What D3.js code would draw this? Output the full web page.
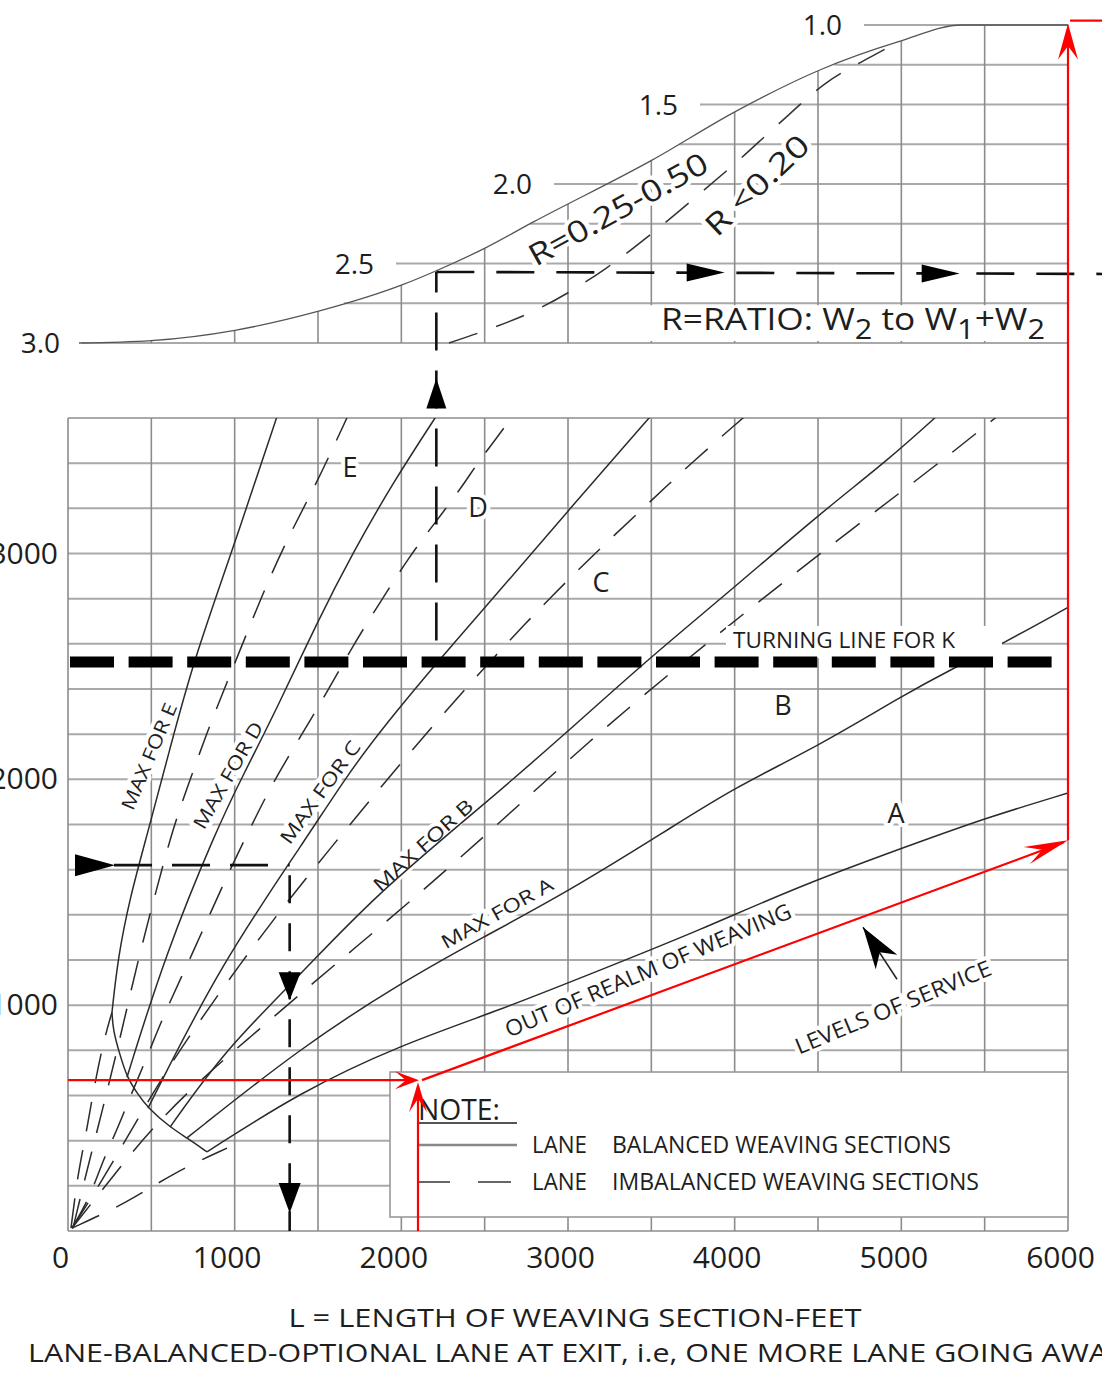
<!DOCTYPE html>
<html>
<head>
<meta charset="utf-8">
<title>Weaving section nomograph</title>
<script src="https://cdn.jsdelivr.net/npm/d3@7/dist/d3.min.js"></script>
<style>
  body { margin: 0; background: #fff; }
  svg { display: block; }
  text { font-family: "Open Sans", "DejaVu Sans", sans-serif; fill: #1e1e1e; }
</style>
</head>
<body>
<svg width="1102" height="1373"></svg>
<script>
// ticks
const xTicks = [0, 1000, 2000, 3000, 4000, 5000, 6000]
const yTicks = [1000, 2000, 3000]
const kTicks = [1.0, 1.5, 2.0, 2.5, 3.0]
const kGrid = [1.0, 1.25, 1.5, 1.75, 2.0, 2.25, 2.5, 2.75, 3.0]

// K curves on top, [L, K]
const kCurveWide = [[66, 3.0], [498, 2.985], [1002, 2.92], [1504, 2.80], [2004, 2.635], [2244, 2.53], [2508, 2.40], [2790, 2.24], [3504, 1.85], [4012, 1.54], [4518, 1.28], [4984, 1.105], [5364, 1.0], [6000, 1.0]]
const kCurveLow = [[2286, 3.0], [2508, 2.92], [2832, 2.78], [3228, 2.53], [3528, 2.29], [3780, 2.07], [4014, 1.86], [4266, 1.62], [4542, 1.37], [4836, 1.19], [4986, 1.105]]

// balanced sections (solid), [L, V]
const maxE = [[264, 969], [300, 1212], [372, 1478], [474, 1752], [612, 2137], [750, 2518], [990, 3022], [1260, 3620]]
const maxD = [[354, 681], [582, 1221], [894, 1783], [1050, 2018], [1254, 2314], [1494, 2695], [1710, 3005], [1950, 3314], [2220, 3620]]
const maxC = [[480, 544], [912, 1177], [1434, 1743], [1674, 2018], [1914, 2252], [2250, 2549], [2514, 2770], [3012, 3199], [3510, 3620]]
const maxB = [[612, 460], [942, 801], [1380, 1124], [1842, 1487], [2490, 1885], [2994, 2208], [3450, 2513], [3990, 2845], [4512, 3177], [4932, 3421], [5230, 3620]]
const maxA = [[714, 412], [1392, 810], [1992, 1097], [2490, 1301], [2994, 1500], [3594, 1774], [3990, 1960], [4512, 2151], [5010, 2372], [5310, 2491], [5610, 2602], [6000, 2761]]
const outLine = [[834, 350], [1392, 615], [1992, 823], [2592, 978], [3192, 1155], [3792, 1332], [4392, 1530], [5172, 1740], [5514, 1830], [5994, 1938]]
const hookLine = [[264, 969], [270, 889], [312, 779], [354, 681], [414, 611], [480, 544], [612, 460], [714, 412], [834, 350]]

// imbalanced sections (dashed), [L, V]
const dashLeft = [[18, 13], [60, 257], [102, 403], [150, 611], [210, 832], [264, 969]]
const dashE = [[30, 13], [114, 270], [222, 580], [324, 890], [420, 1199], [534, 1522], [630, 1783], [720, 1973], [834, 2208], [954, 2430], [1080, 2659], [1194, 2867], [1332, 3089], [1494, 3314], [1680, 3611]]
const dashD = [[24, 13], [132, 150], [210, 314], [294, 447], [372, 593], [474, 770], [570, 947], [672, 1111], [774, 1274], [870, 1434], [990, 1628], [1110, 1809], [1230, 1986], [1374, 2164], [1554, 2385], [1710, 2593], [1872, 2783], [2052, 2991], [2190, 3124], [2370, 3301], [2454, 3398], [2574, 3513], [2670, 3611]]
const dashC = [[24, 13], [132, 137], [312, 358], [552, 668], [792, 934], [1092, 1243], [1392, 1531], [1752, 1854], [2052, 2120], [2412, 2425], [2730, 2681], [3114, 2969], [3450, 3199], [3702, 3376], [4032, 3589], [4074, 3615]]
const dashB = [[24, 13], [252, 226], [492, 447], [792, 668], [1092, 858], [1392, 1049], [1692, 1235], [2112, 1496], [2592, 1809], [3132, 2173], [3654, 2496], [4152, 2792], [4692, 3102], [5232, 3403], [5580, 3610]]
const dashOut = [[24, 13], [354, 124], [630, 257], [954, 367]]

const turningV = 2520

// worked example (black dashed)
const exL = 1330, exV = 1620
const exTopL = 2210, exTopV = 2615, exTopK = 2.553

// red reading
const redL = 2100, redV = 668, redEndV = 1730, redTopK = 0.985

const svg = d3.select('svg')
const W = +svg.attr('width')

const x = d3.scaleLinear().domain([0, 6000]).range([68, 1068])
const y = d3.scaleLinear().domain([0, 3600]).range([1231, 418])
const k = d3.scaleLinear().domain([1, 3]).range([25, 343])

svg.append('defs').append('clipPath').attr('id', 'plot')
    .append('rect')
    .attr('x', x(0)).attr('y', y(3600))
    .attr('width', x(6000) - x(0)).attr('height', y(0) - y(3600))

// layers, bottom to top
const gridG = svg.append('g')
const bgLayer = svg.append('g')
const curveG = svg.append('g').attr('clip-path', 'url(#plot)')
const maskG = svg.append('g')
const heavyG = svg.append('g')
const topG = svg.append('g')
const guideG = svg.append('g')
const noteG = svg.append('g')
const textLayer = svg.append('g')
const redG = svg.append('g')
const axisG = svg.append('g')

function kAt(L) {
    const i = d3.bisector(d => d[0]).left(kCurveWide, L)
    if (i <= 0) return kCurveWide[0][1]
    if (i >= kCurveWide.length) return kCurveWide[kCurveWide.length - 1][1]
    const a = kCurveWide[i - 1], b = kCurveWide[i]
    return a[1] + (b[1] - a[1]) * (L - a[0]) / (b[0] - a[0])
}
function lAt(K) {
    for (let i = 1; i < kCurveWide.length; i++) {
        const a = kCurveWide[i - 1], b = kCurveWide[i]
        if ((a[1] - K) * (b[1] - K) <= 0 && a[1] !== b[1])
            return a[0] + (b[0] - a[0]) * (K - a[1]) / (b[1] - a[1])
    }
    return kCurveWide[0][0]
}

// main grid
gridG.selectAll('.hg').data(d3.range(0, 3601, 200)).join('line')
    .attr('x1', x(0)).attr('x2', x(6000))
    .attr('y1', d => y(d)).attr('y2', d => y(d))
    .attr('stroke', '#a9a9a9').attr('stroke-width', 2)
gridG.selectAll('.vg').data(d3.range(0, 6001, 500)).join('line')
    .attr('x1', d => x(d)).attr('x2', d => x(d))
    .attr('y1', y(0)).attr('y2', y(3600))
    .attr('stroke', '#8c8c8c').attr('stroke-width', 1.6)

// top grid
const kLabelRight = new Map([[1, 842], [1.5, 678], [2, 532], [2.5, 374], [3, 60]])
gridG.selectAll('.kh').data(kGrid).join('line')
    .attr('x1', d => kLabelRight.has(d) ? kLabelRight.get(d) + 22 : x(lAt(d)))
    .attr('x2', x(6000))
    .attr('y1', d => k(d)).attr('y2', d => k(d))
    .attr('stroke', '#a9a9a9').attr('stroke-width', 2)
gridG.selectAll('.kv').data(d3.range(500, 6001, 500)).join('line')
    .attr('x1', d => x(d)).attr('x2', d => x(d))
    .attr('y1', k(3)).attr('y2', d => k(kAt(d)))
    .attr('stroke', '#8c8c8c').attr('stroke-width', 1.6)
// blank band behind the ratio note
bgLayer.append('rect')
    .attr('x', 600).attr('y', k(2.75) + 2)
    .attr('width', x(6000) - 601).attr('height', k(3) - k(2.75) - 4)
    .attr('fill', '#fff')

function label(t, px, py, ang, size, len) {
    [bgLayer, textLayer].forEach((layer, i) => {
        const el = layer.append('text')
            .attr('transform', `translate(${px},${py}) rotate(${ang})`)
            .attr('text-anchor', 'middle').attr('dy', '0.36em')
            .attr('font-size', size).text(t)
        if (len) el.attr('textLength', len).attr('lengthAdjust', 'spacingAndGlyphs')
        if (i === 0) el.attr('fill', '#fff').attr('stroke', '#fff')
            .attr('stroke-width', 8).attr('stroke-linejoin', 'round')
    })
}

// main curves
const line = d3.line().x(d => x(d[0])).y(d => y(d[1])).curve(d3.curveBasis)
curveG.selectAll('.solid').data([maxE, maxD, maxC, maxB, maxA, outLine, hookLine]).join('path')
    .attr('d', line).attr('fill', 'none')
    .attr('stroke', '#2b2b2b').attr('stroke-width', 1.5)
curveG.selectAll('.dash').data([dashLeft, dashE, dashD, dashC, dashB, dashOut]).join('path')
    .attr('d', line).attr('fill', 'none')
    .attr('stroke', '#2b2b2b').attr('stroke-width', 1.5)
    .attr('stroke-dasharray', '30,19')

// turning line label mask + heavy dashed line
maskG.append('rect')
    .attr('x', 726).attr('y', y(turningV) - 36)
    .attr('width', 276).attr('height', 32).attr('fill', '#fff')
heavyG.append('line')
    .attr('x1', x(0) + 2).attr('x2', 1053)
    .attr('y1', y(turningV)).attr('y2', y(turningV))
    .attr('stroke', '#000').attr('stroke-width', 11)
    .attr('stroke-dasharray', '44,14.6')

// top curves
const kLine = d3.line().x(d => x(d[0])).y(d => k(d[1])).curve(d3.curveMonotoneX)
topG.append('path').datum(kCurveWide).attr('d', kLine)
    .attr('fill', 'none').attr('stroke', '#555').attr('stroke-width', 1.3)
topG.append('path').datum(kCurveLow).attr('d', kLine)
    .attr('fill', 'none').attr('stroke', '#333').attr('stroke-width', 1.5)
    .attr('stroke-dasharray', '30,20')

function arrowHead(g, tx, ty, ang, len, half, fill, notch) {
    const a = ang * Math.PI / 180
    const c = Math.cos(a), s = Math.sin(a)
    const pt = (u, v) => [tx + u * c - v * s, ty + u * s + v * c]
    const pts = notch
        ? [pt(0, 0), pt(-len, -half), pt(-len * notch, 0), pt(-len, half)]
        : [pt(0, 0), pt(-len, -half), pt(-len, half)]
    g.append('path').attr('d', 'M' + pts.map(p => p.join(',')).join('L') + 'Z').attr('fill', fill)
}

// worked example guides
const guide = (x1, y1, x2, y2, dash) => guideG.append('line')
    .attr('x1', x1).attr('y1', y1).attr('x2', x2).attr('y2', y2)
    .attr('stroke', '#111').attr('stroke-width', 2.6).attr('stroke-dasharray', dash)
guide(x(0) + 46, y(exV), x(exL), y(exV), '38,20')
guide(x(exL), y(exV) + 10, x(exL), y(0), '28,20')
guide(x(exTopL), y(exTopV), x(exTopL), k(exTopK), '38,20')
guide(x(exTopL), k(exTopK), W, k(exTopK) + 2, '38,22')
arrowHead(guideG, x(0) + 47, y(exV), 0, 40, 11, '#000')
arrowHead(guideG, x(exL), y(1022), 90, 28, 11, '#000')
arrowHead(guideG, x(exL), y(80), 90, 30, 11, '#000')
arrowHead(guideG, x(exTopL), y(3775), -90, 30, 10, '#000')
arrowHead(guideG, x(3940), k(exTopK) + 0.5, 0, 38, 9, '#000')
arrowHead(guideG, x(5350), k(exTopK) + 1.5, 0, 38, 9, '#000')

// levels of service pointer
const losTip = [x(4770), y(1345)]
guideG.append('line')
    .attr('x1', losTip[0]).attr('y1', losTip[1])
    .attr('x2', losTip[0] + 34).attr('y2', losTip[1] + 52)
    .attr('stroke', '#222').attr('stroke-width', 1.5)
arrowHead(guideG, losTip[0], losTip[1], -124, 42, 13, '#000', 0.72)

// note box
const nb = { x0: x(1932), x1: x(6000), y0: y(704), y1: y(62) }
noteG.append('rect')
    .attr('x', nb.x0).attr('y', nb.y0)
    .attr('width', nb.x1 - nb.x0).attr('height', nb.y1 - nb.y0)
    .attr('fill', '#fff').attr('stroke', '#999').attr('stroke-width', 1.6)
noteG.append('text').attr('x', nb.x0 + 28).attr('y', nb.y0 + 48)
    .attr('font-size', 30).attr('textLength', 82).attr('lengthAdjust', 'spacingAndGlyphs')
    .text('NOTE:')
noteG.append('line').attr('x1', nb.x0 + 27).attr('x2', nb.x0 + 127)
    .attr('y1', nb.y0 + 51).attr('y2', nb.y0 + 51)
    .attr('stroke', '#555').attr('stroke-width', 2)
noteG.append('line').attr('x1', nb.x0 + 27).attr('x2', nb.x0 + 127)
    .attr('y1', nb.y0 + 73).attr('y2', nb.y0 + 73)
    .attr('stroke', '#888').attr('stroke-width', 2.5)
noteG.append('line').attr('x1', nb.x0 + 27).attr('x2', nb.x0 + 127)
    .attr('y1', nb.y0 + 110).attr('y2', nb.y0 + 110)
    .attr('stroke', '#666').attr('stroke-width', 2)
    .attr('stroke-dasharray', '33,28')
const legendRows = [['BALANCED WEAVING SECTIONS', 73, 339], ['IMBALANCED WEAVING SECTIONS', 110, 367]]
legendRows.forEach(([t, dy, len]) => {
    noteG.append('text').attr('x', nb.x0 + 142).attr('y', nb.y0 + dy).attr('dy', '0.36em')
        .attr('font-size', 23).attr('textLength', 55).attr('lengthAdjust', 'spacingAndGlyphs')
        .attr('fill', '#333').text('LANE')
    noteG.append('text').attr('x', nb.x0 + 222).attr('y', nb.y0 + dy).attr('dy', '0.36em')
        .attr('font-size', 23).attr('textLength', len).attr('lengthAdjust', 'spacingAndGlyphs')
        .attr('fill', '#333').text(t)
})

// labels on the chart
label('MAX FOR E', x(486), y(2102), -67, 19, 114)
label('MAX FOR D', x(960), y(2018), -60, 19, 120)
label('MAX FOR C', x(1512), y(1943), -54, 19, 122)
label('MAX FOR B', x(2130), y(1708), -42, 19, 127)
label('MAX FOR A', x(2574), y(1407), -29, 19, 125)
label('OUT OF REALM OF WEAVING', x(3480), y(1155), -23, 22, 309)
label('LEVELS OF SERVICE', x(4950), y(991), -22.5, 22, 210)
label('E', x(1692), y(3381), 0, 27)
label('D', x(2460), y(3204), 0, 27)
label('C', x(3198), y(2872), 0, 27)
label('B', x(4290), y(2328), 0, 27)
label('A', x(4968), y(1850), 0, 27)
label('R=0.25-0.50', x(3300), k(2.157), -29, 30, 200)
label('R <0.20', x(4134), k(2.006), -43.5, 30, 131)
textLayer.append('text')
    .attr('x', x(4656)).attr('y', y(2615)).attr('dy', '0.36em')
    .attr('text-anchor', 'middle').attr('font-size', 21)
    .attr('textLength', 222).attr('lengthAdjust', 'spacingAndGlyphs')
    .attr('fill', '#333').text('TURNING LINE FOR K')

// K tick labels
textLayer.selectAll('.kl').data(kTicks).join('text')
    .attr('x', d => kLabelRight.get(d)).attr('y', d => k(d)).attr('dy', '0.36em')
    .attr('text-anchor', 'end').attr('font-size', 28)
    .text(d => d.toFixed(1))

// ratio note
const ratio = textLayer.append('text').attr('x', 661).attr('y', k(2.918)).attr('font-size', 31)
    .attr('textLength', 384).attr('lengthAdjust', 'spacingAndGlyphs')
ratio.append('tspan').text('R=RATIO: W')
ratio.append('tspan').attr('dy', 9).attr('font-size', 27).text('2')
ratio.append('tspan').attr('dy', -9).text(' to W')
ratio.append('tspan').attr('dy', 9).attr('font-size', 27).text('1')
ratio.append('tspan').attr('dy', -9).text('+W')
ratio.append('tspan').attr('dy', 9).attr('font-size', 27).text('2')

// red reading path
const red = '#ff0000'
const redLine = (x1, y1, x2, y2) => redG.append('line')
    .attr('x1', x1).attr('y1', y1).attr('x2', x2).attr('y2', y2)
    .attr('stroke', red).attr('stroke-width', 2.2)
redLine(x(0), y(redV), x(redL) - 6, y(redV))
redLine(x(redL), y(0), x(redL), y(redV) + 6)
redLine(x(redL) + 4, y(redV), x(6000) - 4, y(redEndV) + 2)
redLine(x(6000), y(redEndV), x(6000), k(redTopK) + 6)
redLine(x(6000) + 2, k(redTopK) - 2, W, k(redTopK) - 2)
const diagAng = Math.atan2(y(redEndV) - y(redV), x(6000) - x(redL)) * 180 / Math.PI
arrowHead(redG, x(redL) + 1, y(redV), 0, 24, 9, red, 0.55)
arrowHead(redG, x(redL), y(redV) + 2, -90, 30, 9, red, 0.55)
arrowHead(redG, x(6000), y(redEndV), diagAng, 44, 9, red, 0.62)
arrowHead(redG, x(6000), k(redTopK) + 1, -90, 36, 10, red, 0.62)

// axes
const xAxis = axisG.append('g').attr('transform', `translate(-8,${y(0)})`)
    .call(d3.axisBottom(x).tickValues(xTicks).tickSize(0).tickPadding(16).tickFormat(d3.format('d')))
const yAxis = axisG.append('g').attr('transform', 'translate(58,0)')
    .call(d3.axisLeft(y).tickValues(yTicks).tickSize(0).tickPadding(0).tickFormat(d3.format('d')))
;[xAxis, yAxis].forEach(a => {
    a.select('.domain').remove()
    a.selectAll('text').attr('font-size', 30).attr('font-family', '"Open Sans", sans-serif').attr('fill', '#1e1e1e')
})

axisG.append('text').attr('x', 575).attr('y', 1327)
    .attr('text-anchor', 'middle').attr('font-size', 26)
    .attr('textLength', 573).attr('lengthAdjust', 'spacingAndGlyphs')
    .text('L = LENGTH OF WEAVING SECTION-FEET')
axisG.append('text').attr('x', 28).attr('y', 1362)
    .attr('font-size', 26)
    .attr('textLength', 1097).attr('lengthAdjust', 'spacingAndGlyphs')
    .text('LANE-BALANCED-OPTIONAL LANE AT EXIT, i.e, ONE MORE LANE GOING AWAY')
</script>
</body>
</html>
